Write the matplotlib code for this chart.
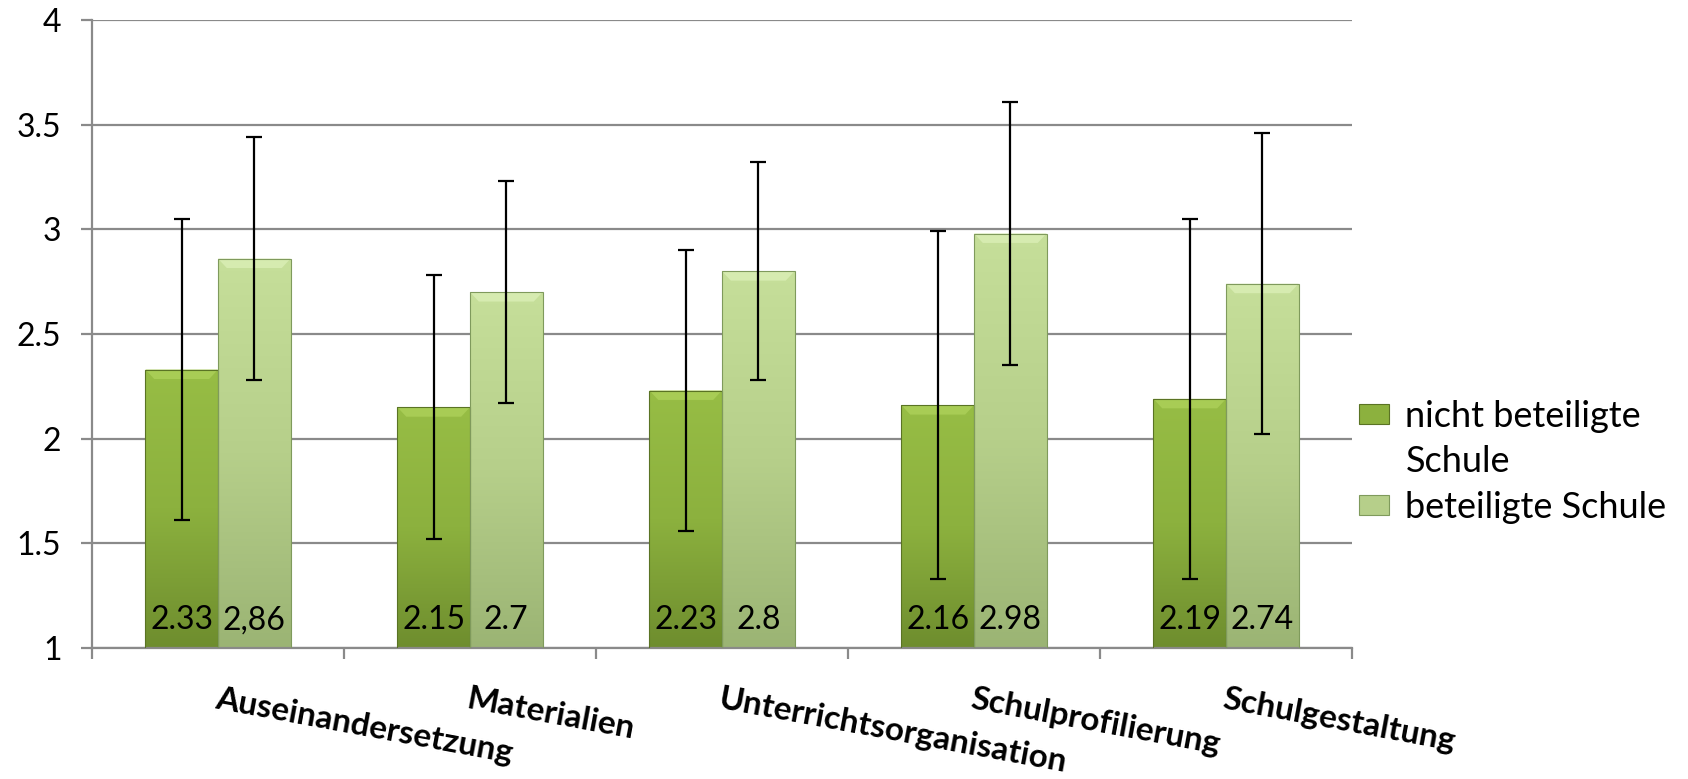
import numpy as np
import matplotlib
matplotlib.use("Agg")
import matplotlib.pyplot as plt
from matplotlib.patches import Patch, Polygon, Rectangle
from matplotlib.colors import LinearSegmentedColormap
from matplotlib.legend_handler import HandlerBase

# ---- data ----
categories = ["Auseinandersetzung", "Materialien", "Unterrichtsorganisation",
              "Schulprofilierung", "Schulgestaltung"]
series_names = ["nicht beteiligte\nSchule", "beteiligte Schule"]
nicht_vals = [2.33, 2.15, 2.23, 2.16, 2.19]
nicht_err = [0.72, 0.63, 0.67, 0.83, 0.86]
bet_vals = [2.86, 2.70, 2.80, 2.98, 2.74]
bet_err = [0.58, 0.53, 0.52, 0.63, 0.72]
nicht_labels = ["2.33", "2.15", "2.23", "2.16", "2.19"]
bet_labels = ["2,86", "2.7", "2.8", "2.98", "2.74"]
y_ticks = [1, 1.5, 2, 2.5, 3, 3.5, 4]
y_tick_labels = ["1", "1.5", "2", "2.5", "3", "3.5", "4"]

plt.rcParams['font.family'] = ['Lato', 'DejaVu Sans']

W, H = 1688, 779
fig = plt.figure(figsize=(W / 100, H / 100), dpi=100)
ax = fig.add_axes([92 / W, 1 - 648 / H, (1352 - 92) / W, (648 - 20) / H])

x = np.arange(len(categories))
bw = 0.288

ax.set_xlim(-0.5, len(categories) - 0.5)
ax.set_ylim(1, 4)

# gridlines
ax.set_yticks(y_ticks)
ax.set_yticklabels(y_tick_labels, fontsize=23)
ax.yaxis.grid(True, color="#8a8a8a", linewidth=1.6, zorder=0)
ax.set_axisbelow(True)

for s in ["top", "right"]:
    ax.spines[s].set_visible(False)
for s in ["left", "bottom"]:
    ax.spines[s].set_color("#8a8a8a")
    ax.spines[s].set_linewidth(1.6)

ax.tick_params(axis="y", length=8, width=1.6, color="#8a8a8a", pad=14)

# x ticks: minor at boundaries, major labels at centres
ax.set_xticks(x)
ax.set_xticklabels(categories, fontsize=24, fontweight="bold")
ax.set_xticks(np.arange(-0.5, len(categories) + 0.5, 1), minor=True)
ax.tick_params(axis="x", which="major", length=0, pad=26)
ax.tick_params(axis="x", which="minor", length=8, width=1.6, color="#8a8a8a")
for lbl in ax.get_xticklabels():
    lbl.set_rotation(-10.5)
    lbl.set_ha("left")
    lbl.set_va("top")
    lbl.set_rotation_mode("anchor")

cmap_dark = LinearSegmentedColormap.from_list("d", ["#97bd45", "#8cb13e", "#6e8d2e"])
cmap_light = LinearSegmentedColormap.from_list("l", ["#c6df9a", "#b6cf8a", "#9bb474"])

grad = np.linspace(0, 1, 256).reshape(-1, 1)

def draw_bars(xpos, vals, errs, cmap, bevel_col, edge):
    bars = ax.bar(xpos, np.array(vals) - 1, bw, bottom=1, align="edge",
                  color="none", edgecolor=edge, linewidth=0.8, zorder=3)
    for b in bars:
        x0, y0 = b.get_x(), b.get_y()
        w, h = b.get_width(), b.get_height()
        im = ax.imshow(grad, cmap=cmap, aspect="auto",
                       extent=[x0, x0 + w, y0, y0 + h], origin="upper",
                       zorder=2.5)
        im.set_clip_path(b)
        dx, dy = 0.035, 0.045
        top = y0 + h
        poly = Polygon([[x0, top], [x0 + w, top], [x0 + w - dx, top - dy],
                        [x0 + dx, top - dy]], closed=True,
                       facecolor=bevel_col, edgecolor="none", zorder=2.7)
        ax.add_patch(poly)
    ax.errorbar(np.array(xpos) + bw / 2, vals, yerr=errs, fmt="none",
                ecolor="black", elinewidth=1.6, capsize=6, capthick=1.6,
                zorder=4)
    return bars

b1 = draw_bars(x - bw, nicht_vals, nicht_err, cmap_dark, "#a8cc55", "#5a7324")
b2 = draw_bars(x, bet_vals, bet_err, cmap_light, "#d6ebb0", "#7f9a5c")

for xi, lab in zip(x - bw / 2, nicht_labels):
    ax.text(xi, 1.09, lab, ha="center", va="baseline", fontsize=23, zorder=5)
for xi, lab in zip(x + bw / 2, bet_labels):
    ax.text(xi, 1.09, lab, ha="center", va="baseline", fontsize=23, zorder=5)


class ShiftedPatchHandler(HandlerBase):
    def __init__(self, shift=0.0, **kw):
        super().__init__(**kw)
        self.shift = shift

    def create_artists(self, legend, orig_handle, xdescent, ydescent,
                       width, height, fontsize, trans):
        r = Rectangle((-xdescent, -ydescent + self.shift), width, height,
                      facecolor=orig_handle.get_facecolor(),
                      edgecolor=orig_handle.get_edgecolor(),
                      linewidth=orig_handle.get_linewidth(), transform=trans)
        return [r]


h1 = Patch(facecolor="#8cb13e", edgecolor="#5a7324", linewidth=0.8)
h2 = Patch(facecolor="#b6cf8a", edgecolor="#7f9a5c", linewidth=0.8)
leg = fig.legend([h1, h2], series_names, loc="center left",
                 bbox_to_anchor=(1326 / W, 1 - 462 / H), frameon=False,
                 fontsize=26, handlelength=0.85, handleheight=0.5,
                 handletextpad=0.45, labelspacing=0.35,
                 handler_map={h1: ShiftedPatchHandler(shift=18.5),
                              h2: ShiftedPatchHandler(shift=0.0)})
for t in leg.get_texts():
    t.set_linespacing(1.45)

fig.savefig("out.png", dpi=100)
